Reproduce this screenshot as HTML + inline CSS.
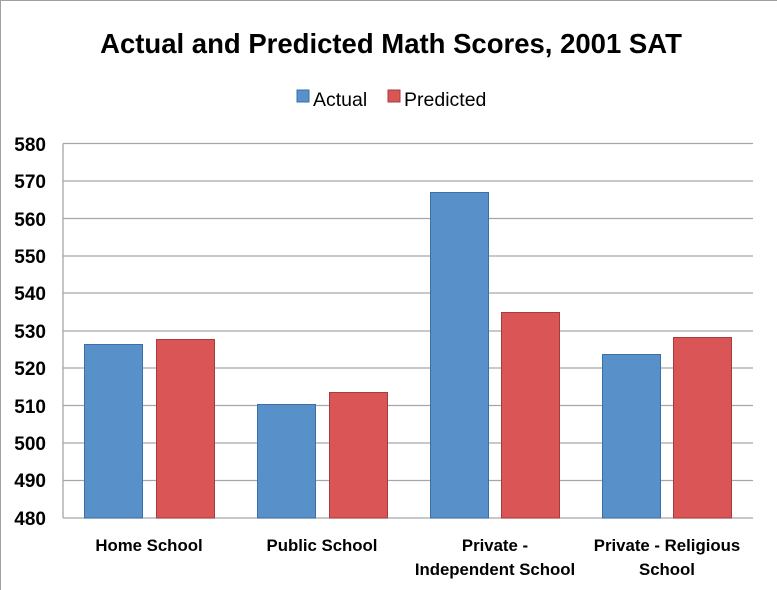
<!DOCTYPE html>
<html><head><style>body{margin:0;background:#fff}svg{display:block}</style></head><body>
<svg width="777" height="590" xmlns="http://www.w3.org/2000/svg" font-family="Liberation Sans, DejaVu Sans, sans-serif">
<rect x="0.5" y="0.5" width="780" height="595" fill="#fff" stroke="#a0a0a0"/>
<text x="391" y="53" text-anchor="middle" font-size="27.5" font-weight="bold" fill="#000">Actual and Predicted Math Scores, 2001 SAT</text>
<rect x="297" y="90" width="12" height="12" fill="#5890ca" stroke="#3d6fa6"/>
<text x="313" y="106" font-size="19.5">Actual</text>
<rect x="388" y="90" width="12" height="12" fill="#d95556" stroke="#a83c3c"/>
<text x="404" y="106" font-size="19.5">Predicted</text>
<g stroke="#a6a6a6" stroke-width="1.3">
<line x1="63" y1="143.5" x2="753" y2="143.5"/><line x1="63" y1="181" x2="753" y2="181"/><line x1="63" y1="218.5" x2="753" y2="218.5"/><line x1="63" y1="256" x2="753" y2="256"/><line x1="63" y1="293" x2="753" y2="293"/><line x1="63" y1="331" x2="753" y2="331"/><line x1="63" y1="368" x2="753" y2="368"/><line x1="63" y1="405.5" x2="753" y2="405.5"/><line x1="63" y1="443" x2="753" y2="443"/><line x1="63" y1="480.5" x2="753" y2="480.5"/><line x1="63" y1="518" x2="753" y2="518"/>
<line x1="63" y1="143.5" x2="63" y2="518"/>
</g>
<g font-size="19" font-weight="bold" text-anchor="end">
<text x="46" y="151">580</text><text x="46" y="188">570</text><text x="46" y="226">560</text><text x="46" y="263">550</text><text x="46" y="300">540</text><text x="46" y="338">530</text><text x="46" y="375">520</text><text x="46" y="413">510</text><text x="46" y="450">500</text><text x="46" y="487">490</text><text x="46" y="525">480</text>
</g>
<g fill="#5890ca" stroke="#3d6fa6">
<rect x="84.5" y="344.5" width="58" height="173.5"/>
<rect x="257.5" y="404.5" width="58" height="113.5"/>
<rect x="430.5" y="192.5" width="58" height="325.5"/>
<rect x="602.5" y="354.5" width="58" height="163.5"/>
</g>
<g fill="#d95556" stroke="#a83c3c">
<rect x="156.5" y="339.5" width="58" height="178.5"/>
<rect x="329.5" y="392.5" width="58" height="125.5"/>
<rect x="501.5" y="312.5" width="58" height="205.5"/>
<rect x="673.5" y="337.5" width="58" height="180.5"/>
</g>
<g font-size="16.8" font-weight="bold" text-anchor="middle">
<text x="149" y="551">Home School</text>
<text x="322" y="551">Public School</text>
<text x="495" y="551">Private -</text>
<text x="495" y="575">Independent School</text>
<text x="667" y="551">Private - Religious</text>
<text x="667" y="575">School</text>
</g>
</svg>
</body></html>
